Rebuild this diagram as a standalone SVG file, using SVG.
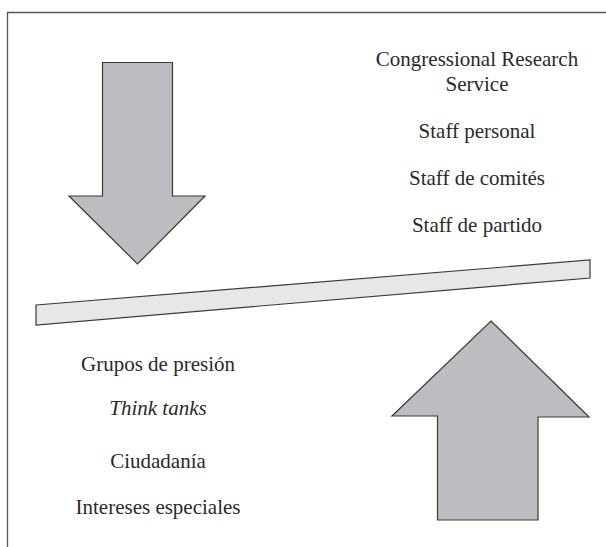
<svg xmlns="http://www.w3.org/2000/svg" width="606" height="547" viewBox="0 0 606 547">
<style>
.arrow{fill:#bcbdc0;stroke:#3a3a3a;stroke-width:1.2;stroke-linejoin:miter}
.plank{fill:#e6e7e8;stroke:#3a3a3a;stroke-width:1.2}
.frame{fill:none;stroke:#555;stroke-width:1.3}
text{font-family:"Liberation Serif","Times New Roman",serif;font-size:21px;fill:#2a2a2a;text-anchor:middle}
.it{font-style:italic}
</style>
<rect width="606" height="547" fill="#fff"/>
<path class="frame" d="M7.5,547 V12.5 H606"/>
<g id="arrow-down">
<polygon class="arrow" points="102.5,62.5 172.5,62.5 172.5,196 205,196 137.5,264 69,196 102.5,196"/>
</g>
<g id="arrow-up">
<polygon class="arrow" points="491,321 589,417 538,417 538,520 437.5,520 437.5,416 392,416"/>
</g>
<g id="plank">
<polygon class="plank" points="36,305 590,260 590,278 36,325"/>
</g>
<g id="right-labels">
<text x="477" y="66">Congressional Research</text>
<text x="477" y="91">Service</text>
<text x="477" y="138">Staff personal</text>
<text x="477" y="185">Staff de comités</text>
<text x="477" y="232">Staff de partido</text>
</g>
<g id="left-labels">
<text x="158" y="371">Grupos de presión</text>
<text x="158" y="415" class="it">Think tanks</text>
<text x="158" y="468">Ciudadanía</text>
<text x="158" y="514">Intereses especiales</text>
</g>
</svg>
